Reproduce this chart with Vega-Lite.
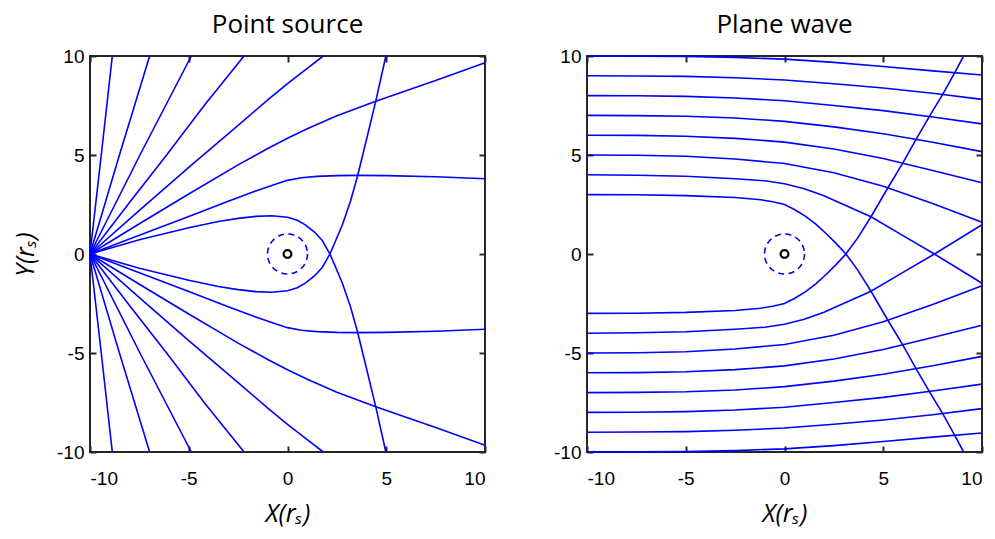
{
"$schema": "https://vega.github.io/schema/vega-lite/v6.json",
"padding": {"left": 12, "top": 11, "right": 0, "bottom": 0},
"background": "white",
"config": {
  "view": {"stroke": "#262626", "strokeWidth": 2},
  "axis": {"labelFont": "Liberation Sans", "labelFontSize": 19, "labelColor": "black", "labelExpr": "'' + datum.value", "grid": false, "domain": false, "tickColor": "#262626", "tickWidth": 2, "tickSize": -6, "titleFont": "Open Sans", "titleFontSize": 25, "titleFontStyle": "italic", "titleFontWeight": "normal", "titleColor": "black"}
},
"datasets": {
"rays": [
{"p":"A","r":"a1","i":0,"x":-10,"y":0},{"p":"A","r":"a1","i":1,"x":-9.43,"y":5},{"p":"A","r":"a1","i":2,"x":-8.87,"y":10},
{"p":"A","r":"a2","i":0,"x":-10,"y":0},{"p":"A","r":"a2","i":1,"x":-8.51,"y":5},{"p":"A","r":"a2","i":2,"x":-6.98,"y":10},
{"p":"A","r":"a3","i":0,"x":-10,"y":0},{"p":"A","r":"a3","i":1,"x":-7.47,"y":5},{"p":"A","r":"a3","i":2,"x":-4.87,"y":10},
{"p":"A","r":"a4","i":0,"x":-10,"y":0},{"p":"A","r":"a4","i":1,"x":-8,"y":2.6},{"p":"A","r":"a4","i":2,"x":-6.12,"y":5},{"p":"A","r":"a4","i":3,"x":-4.2,"y":7.52},{"p":"A","r":"a4","i":4,"x":-2.2,"y":10},
{"p":"A","r":"a5","i":0,"x":-10,"y":0},{"p":"A","r":"a5","i":1,"x":-7.5,"y":2.2},{"p":"A","r":"a5","i":2,"x":-5,"y":4.38},{"p":"A","r":"a5","i":3,"x":-2.5,"y":6.5},{"p":"A","r":"a5","i":4,"x":-1,"y":7.78},{"p":"A","r":"a5","i":5,"x":0,"y":8.6},{"p":"A","r":"a5","i":6,"x":1,"y":9.38},{"p":"A","r":"a5","i":7,"x":1.81,"y":10},
{"p":"A","r":"a6","i":0,"x":-10,"y":0},{"p":"A","r":"a6","i":1,"x":-7.5,"y":1.53},{"p":"A","r":"a6","i":2,"x":-5,"y":3.03},{"p":"A","r":"a6","i":3,"x":-2.5,"y":4.5},{"p":"A","r":"a6","i":4,"x":-1,"y":5.33},{"p":"A","r":"a6","i":5,"x":0,"y":5.85},{"p":"A","r":"a6","i":6,"x":1,"y":6.33},{"p":"A","r":"a6","i":7,"x":2.5,"y":6.98},{"p":"A","r":"a6","i":8,"x":4.47,"y":7.72},{"p":"A","r":"a6","i":9,"x":7.5,"y":8.76},{"p":"A","r":"a6","i":10,"x":10,"y":9.66},
{"p":"A","r":"a7","i":0,"x":-10,"y":0},{"p":"A","r":"a7","i":1,"x":-7.5,"y":0.95},{"p":"A","r":"a7","i":2,"x":-5,"y":1.9},{"p":"A","r":"a7","i":3,"x":-3,"y":2.66},{"p":"A","r":"a7","i":4,"x":-1.5,"y":3.22},{"p":"A","r":"a7","i":5,"x":-0.5,"y":3.56},{"p":"A","r":"a7","i":6,"x":0,"y":3.72},{"p":"A","r":"a7","i":7,"x":0.7,"y":3.85},{"p":"A","r":"a7","i":8,"x":1.5,"y":3.92},{"p":"A","r":"a7","i":9,"x":2.5,"y":3.96},{"p":"A","r":"a7","i":10,"x":3.5,"y":3.97},{"p":"A","r":"a7","i":11,"x":5,"y":3.96},{"p":"A","r":"a7","i":12,"x":7.5,"y":3.9},{"p":"A","r":"a7","i":13,"x":10,"y":3.8},
{"p":"A","r":"a8","i":0,"x":-10,"y":0},{"p":"A","r":"a8","i":1,"x":-7.5,"y":0.72},{"p":"A","r":"a8","i":2,"x":-5,"y":1.33},{"p":"A","r":"a8","i":3,"x":-3.5,"y":1.64},{"p":"A","r":"a8","i":4,"x":-2.5,"y":1.8},{"p":"A","r":"a8","i":5,"x":-1.6,"y":1.9},{"p":"A","r":"a8","i":6,"x":-0.8,"y":1.93},{"p":"A","r":"a8","i":7,"x":0,"y":1.86},{"p":"A","r":"a8","i":8,"x":0.5,"y":1.7},{"p":"A","r":"a8","i":9,"x":0.92,"y":1.46},{"p":"A","r":"a8","i":10,"x":1.35,"y":1.12},{"p":"A","r":"a8","i":11,"x":1.76,"y":0.68},{"p":"A","r":"a8","i":12,"x":2.15,"y":0},{"p":"A","r":"a8","i":13,"x":2.78,"y":-1.48},{"p":"A","r":"a8","i":14,"x":3.2,"y":-2.7},{"p":"A","r":"a8","i":15,"x":3.55,"y":-3.95},{"p":"A","r":"a8","i":16,"x":4.04,"y":-5.95},{"p":"A","r":"a8","i":17,"x":4.47,"y":-7.72},{"p":"A","r":"a8","i":18,"x":4.98,"y":-10},
{"p":"A","r":"b1","i":0,"x":-10,"y":0},{"p":"A","r":"b1","i":1,"x":-9.43,"y":-5},{"p":"A","r":"b1","i":2,"x":-8.87,"y":-10},
{"p":"A","r":"b2","i":0,"x":-10,"y":0},{"p":"A","r":"b2","i":1,"x":-8.51,"y":-5},{"p":"A","r":"b2","i":2,"x":-6.98,"y":-10},
{"p":"A","r":"b3","i":0,"x":-10,"y":0},{"p":"A","r":"b3","i":1,"x":-7.47,"y":-5},{"p":"A","r":"b3","i":2,"x":-4.87,"y":-10},
{"p":"A","r":"b4","i":0,"x":-10,"y":0},{"p":"A","r":"b4","i":1,"x":-8,"y":-2.6},{"p":"A","r":"b4","i":2,"x":-6.12,"y":-5},{"p":"A","r":"b4","i":3,"x":-4.2,"y":-7.52},{"p":"A","r":"b4","i":4,"x":-2.2,"y":-10},
{"p":"A","r":"b5","i":0,"x":-10,"y":0},{"p":"A","r":"b5","i":1,"x":-7.5,"y":-2.2},{"p":"A","r":"b5","i":2,"x":-5,"y":-4.38},{"p":"A","r":"b5","i":3,"x":-2.5,"y":-6.5},{"p":"A","r":"b5","i":4,"x":-1,"y":-7.78},{"p":"A","r":"b5","i":5,"x":0,"y":-8.6},{"p":"A","r":"b5","i":6,"x":1,"y":-9.38},{"p":"A","r":"b5","i":7,"x":1.81,"y":-10},
{"p":"A","r":"b6","i":0,"x":-10,"y":0},{"p":"A","r":"b6","i":1,"x":-7.5,"y":-1.53},{"p":"A","r":"b6","i":2,"x":-5,"y":-3.03},{"p":"A","r":"b6","i":3,"x":-2.5,"y":-4.5},{"p":"A","r":"b6","i":4,"x":-1,"y":-5.33},{"p":"A","r":"b6","i":5,"x":0,"y":-5.85},{"p":"A","r":"b6","i":6,"x":1,"y":-6.33},{"p":"A","r":"b6","i":7,"x":2.5,"y":-6.98},{"p":"A","r":"b6","i":8,"x":4.47,"y":-7.72},{"p":"A","r":"b6","i":9,"x":7.5,"y":-8.76},{"p":"A","r":"b6","i":10,"x":10,"y":-9.66},
{"p":"A","r":"b7","i":0,"x":-10,"y":0},{"p":"A","r":"b7","i":1,"x":-7.5,"y":-0.95},{"p":"A","r":"b7","i":2,"x":-5,"y":-1.9},{"p":"A","r":"b7","i":3,"x":-3,"y":-2.66},{"p":"A","r":"b7","i":4,"x":-1.5,"y":-3.22},{"p":"A","r":"b7","i":5,"x":-0.5,"y":-3.56},{"p":"A","r":"b7","i":6,"x":0,"y":-3.72},{"p":"A","r":"b7","i":7,"x":0.7,"y":-3.85},{"p":"A","r":"b7","i":8,"x":1.5,"y":-3.92},{"p":"A","r":"b7","i":9,"x":2.5,"y":-3.96},{"p":"A","r":"b7","i":10,"x":3.5,"y":-3.97},{"p":"A","r":"b7","i":11,"x":5,"y":-3.96},{"p":"A","r":"b7","i":12,"x":7.5,"y":-3.9},{"p":"A","r":"b7","i":13,"x":10,"y":-3.8},
{"p":"A","r":"b8","i":0,"x":-10,"y":0},{"p":"A","r":"b8","i":1,"x":-7.5,"y":-0.72},{"p":"A","r":"b8","i":2,"x":-5,"y":-1.33},{"p":"A","r":"b8","i":3,"x":-3.5,"y":-1.64},{"p":"A","r":"b8","i":4,"x":-2.5,"y":-1.8},{"p":"A","r":"b8","i":5,"x":-1.6,"y":-1.9},{"p":"A","r":"b8","i":6,"x":-0.8,"y":-1.93},{"p":"A","r":"b8","i":7,"x":0,"y":-1.86},{"p":"A","r":"b8","i":8,"x":0.5,"y":-1.7},{"p":"A","r":"b8","i":9,"x":0.92,"y":-1.46},{"p":"A","r":"b8","i":10,"x":1.35,"y":-1.12},{"p":"A","r":"b8","i":11,"x":1.76,"y":-0.68},{"p":"A","r":"b8","i":12,"x":2.15,"y":0},{"p":"A","r":"b8","i":13,"x":2.78,"y":1.48},{"p":"A","r":"b8","i":14,"x":3.2,"y":2.7},{"p":"A","r":"b8","i":15,"x":3.55,"y":3.95},{"p":"A","r":"b8","i":16,"x":4.04,"y":5.95},{"p":"A","r":"b8","i":17,"x":4.47,"y":7.72},{"p":"A","r":"b8","i":18,"x":4.98,"y":10},

{"p":"B","r":"c10","i":0,"x":-10,"y":10},{"p":"B","r":"c10","i":1,"x":-7.5,"y":9.995},{"p":"B","r":"c10","i":2,"x":-5,"y":9.98},{"p":"B","r":"c10","i":3,"x":-2.5,"y":9.93},{"p":"B","r":"c10","i":4,"x":0,"y":9.84},{"p":"B","r":"c10","i":5,"x":2.5,"y":9.68},{"p":"B","r":"c10","i":6,"x":5,"y":9.47},{"p":"B","r":"c10","i":7,"x":7.5,"y":9.25},{"p":"B","r":"c10","i":8,"x":10,"y":9.04},
{"p":"B","r":"c9","i":0,"x":-10,"y":9},{"p":"B","r":"c9","i":1,"x":-7.5,"y":8.99},{"p":"B","r":"c9","i":2,"x":-5,"y":8.97},{"p":"B","r":"c9","i":3,"x":-2.5,"y":8.9},{"p":"B","r":"c9","i":4,"x":0,"y":8.79},{"p":"B","r":"c9","i":5,"x":2.5,"y":8.6},{"p":"B","r":"c9","i":6,"x":5,"y":8.38},{"p":"B","r":"c9","i":7,"x":7.5,"y":8.12},{"p":"B","r":"c9","i":8,"x":10,"y":7.81},
{"p":"B","r":"c8","i":0,"x":-10,"y":8},{"p":"B","r":"c8","i":1,"x":-7.5,"y":7.99},{"p":"B","r":"c8","i":2,"x":-5,"y":7.96},{"p":"B","r":"c8","i":3,"x":-2.5,"y":7.88},{"p":"B","r":"c8","i":4,"x":0,"y":7.74},{"p":"B","r":"c8","i":5,"x":2.5,"y":7.5},{"p":"B","r":"c8","i":6,"x":5,"y":7.24},{"p":"B","r":"c8","i":7,"x":7.5,"y":6.92},{"p":"B","r":"c8","i":8,"x":10,"y":6.57},
{"p":"B","r":"c7","i":0,"x":-10,"y":7},{"p":"B","r":"c7","i":1,"x":-7.5,"y":6.99},{"p":"B","r":"c7","i":2,"x":-5,"y":6.96},{"p":"B","r":"c7","i":3,"x":-2.5,"y":6.87},{"p":"B","r":"c7","i":4,"x":0,"y":6.7},{"p":"B","r":"c7","i":5,"x":2.5,"y":6.42},{"p":"B","r":"c7","i":6,"x":5,"y":6.07},{"p":"B","r":"c7","i":7,"x":7.5,"y":5.64},{"p":"B","r":"c7","i":8,"x":10,"y":5.17},
{"p":"B","r":"c6","i":0,"x":-10,"y":6},{"p":"B","r":"c6","i":1,"x":-7.5,"y":5.99},{"p":"B","r":"c6","i":2,"x":-5,"y":5.95},{"p":"B","r":"c6","i":3,"x":-2.5,"y":5.84},{"p":"B","r":"c6","i":4,"x":0,"y":5.65},{"p":"B","r":"c6","i":5,"x":2.5,"y":5.3},{"p":"B","r":"c6","i":6,"x":5,"y":4.82},{"p":"B","r":"c6","i":7,"x":7.5,"y":4.22},{"p":"B","r":"c6","i":8,"x":10,"y":3.6},
{"p":"B","r":"c5","i":0,"x":-10,"y":5},{"p":"B","r":"c5","i":1,"x":-7.5,"y":4.99},{"p":"B","r":"c5","i":2,"x":-5,"y":4.94},{"p":"B","r":"c5","i":3,"x":-2.5,"y":4.8},{"p":"B","r":"c5","i":4,"x":0,"y":4.57},{"p":"B","r":"c5","i":5,"x":2.5,"y":4.1},{"p":"B","r":"c5","i":6,"x":5,"y":3.42},{"p":"B","r":"c5","i":7,"x":7.5,"y":2.55},{"p":"B","r":"c5","i":8,"x":10,"y":1.6},
{"p":"B","r":"c4","i":0,"x":-10,"y":4},{"p":"B","r":"c4","i":1,"x":-7.5,"y":3.98},{"p":"B","r":"c4","i":2,"x":-5,"y":3.93},{"p":"B","r":"c4","i":3,"x":-2.5,"y":3.8},{"p":"B","r":"c4","i":4,"x":-1,"y":3.7},{"p":"B","r":"c4","i":5,"x":0,"y":3.55},{"p":"B","r":"c4","i":6,"x":1,"y":3.3},{"p":"B","r":"c4","i":7,"x":2,"y":2.94},{"p":"B","r":"c4","i":8,"x":2.76,"y":2.6},{"p":"B","r":"c4","i":9,"x":4.38,"y":1.88},{"p":"B","r":"c4","i":10,"x":6,"y":0.93},{"p":"B","r":"c4","i":11,"x":7.59,"y":0},{"p":"B","r":"c4","i":12,"x":10,"y":-1.48},
{"p":"B","r":"c3","i":0,"x":-10,"y":3},{"p":"B","r":"c3","i":1,"x":-7.5,"y":2.99},{"p":"B","r":"c3","i":2,"x":-5,"y":2.95},{"p":"B","r":"c3","i":3,"x":-2.5,"y":2.85},{"p":"B","r":"c3","i":4,"x":-1.2,"y":2.74},{"p":"B","r":"c3","i":5,"x":-0.6,"y":2.64},{"p":"B","r":"c3","i":6,"x":0,"y":2.5},{"p":"B","r":"c3","i":7,"x":0.5,"y":2.25},{"p":"B","r":"c3","i":8,"x":1.07,"y":1.9},{"p":"B","r":"c3","i":9,"x":1.6,"y":1.5},{"p":"B","r":"c3","i":10,"x":2.09,"y":1.05},{"p":"B","r":"c3","i":11,"x":2.6,"y":0.55},{"p":"B","r":"c3","i":12,"x":3.11,"y":0},{"p":"B","r":"c3","i":13,"x":3.7,"y":-0.8},{"p":"B","r":"c3","i":14,"x":4.38,"y":-1.88},{"p":"B","r":"c3","i":15,"x":5.22,"y":-3.32},{"p":"B","r":"c3","i":16,"x":5.98,"y":-4.58},{"p":"B","r":"c3","i":17,"x":6.66,"y":-5.79},{"p":"B","r":"c3","i":18,"x":7.33,"y":-6.94},{"p":"B","r":"c3","i":19,"x":8.01,"y":-8.06},{"p":"B","r":"c3","i":20,"x":8.6,"y":-9.12},{"p":"B","r":"c3","i":21,"x":9.07,"y":-10},
{"p":"B","r":"d10","i":0,"x":-10,"y":-10},{"p":"B","r":"d10","i":1,"x":-7.5,"y":-9.995},{"p":"B","r":"d10","i":2,"x":-5,"y":-9.98},{"p":"B","r":"d10","i":3,"x":-2.5,"y":-9.93},{"p":"B","r":"d10","i":4,"x":0,"y":-9.84},{"p":"B","r":"d10","i":5,"x":2.5,"y":-9.68},{"p":"B","r":"d10","i":6,"x":5,"y":-9.47},{"p":"B","r":"d10","i":7,"x":7.5,"y":-9.25},{"p":"B","r":"d10","i":8,"x":10,"y":-9.04},
{"p":"B","r":"d9","i":0,"x":-10,"y":-9},{"p":"B","r":"d9","i":1,"x":-7.5,"y":-8.99},{"p":"B","r":"d9","i":2,"x":-5,"y":-8.97},{"p":"B","r":"d9","i":3,"x":-2.5,"y":-8.9},{"p":"B","r":"d9","i":4,"x":0,"y":-8.79},{"p":"B","r":"d9","i":5,"x":2.5,"y":-8.6},{"p":"B","r":"d9","i":6,"x":5,"y":-8.38},{"p":"B","r":"d9","i":7,"x":7.5,"y":-8.12},{"p":"B","r":"d9","i":8,"x":10,"y":-7.81},
{"p":"B","r":"d8","i":0,"x":-10,"y":-8},{"p":"B","r":"d8","i":1,"x":-7.5,"y":-7.99},{"p":"B","r":"d8","i":2,"x":-5,"y":-7.96},{"p":"B","r":"d8","i":3,"x":-2.5,"y":-7.88},{"p":"B","r":"d8","i":4,"x":0,"y":-7.74},{"p":"B","r":"d8","i":5,"x":2.5,"y":-7.5},{"p":"B","r":"d8","i":6,"x":5,"y":-7.24},{"p":"B","r":"d8","i":7,"x":7.5,"y":-6.92},{"p":"B","r":"d8","i":8,"x":10,"y":-6.57},
{"p":"B","r":"d7","i":0,"x":-10,"y":-7},{"p":"B","r":"d7","i":1,"x":-7.5,"y":-6.99},{"p":"B","r":"d7","i":2,"x":-5,"y":-6.96},{"p":"B","r":"d7","i":3,"x":-2.5,"y":-6.87},{"p":"B","r":"d7","i":4,"x":0,"y":-6.7},{"p":"B","r":"d7","i":5,"x":2.5,"y":-6.42},{"p":"B","r":"d7","i":6,"x":5,"y":-6.07},{"p":"B","r":"d7","i":7,"x":7.5,"y":-5.64},{"p":"B","r":"d7","i":8,"x":10,"y":-5.17},
{"p":"B","r":"d6","i":0,"x":-10,"y":-6},{"p":"B","r":"d6","i":1,"x":-7.5,"y":-5.99},{"p":"B","r":"d6","i":2,"x":-5,"y":-5.95},{"p":"B","r":"d6","i":3,"x":-2.5,"y":-5.84},{"p":"B","r":"d6","i":4,"x":0,"y":-5.65},{"p":"B","r":"d6","i":5,"x":2.5,"y":-5.3},{"p":"B","r":"d6","i":6,"x":5,"y":-4.82},{"p":"B","r":"d6","i":7,"x":7.5,"y":-4.22},{"p":"B","r":"d6","i":8,"x":10,"y":-3.6},
{"p":"B","r":"d5","i":0,"x":-10,"y":-5},{"p":"B","r":"d5","i":1,"x":-7.5,"y":-4.99},{"p":"B","r":"d5","i":2,"x":-5,"y":-4.94},{"p":"B","r":"d5","i":3,"x":-2.5,"y":-4.8},{"p":"B","r":"d5","i":4,"x":0,"y":-4.57},{"p":"B","r":"d5","i":5,"x":2.5,"y":-4.1},{"p":"B","r":"d5","i":6,"x":5,"y":-3.42},{"p":"B","r":"d5","i":7,"x":7.5,"y":-2.55},{"p":"B","r":"d5","i":8,"x":10,"y":-1.6},
{"p":"B","r":"d4","i":0,"x":-10,"y":-4},{"p":"B","r":"d4","i":1,"x":-7.5,"y":-3.98},{"p":"B","r":"d4","i":2,"x":-5,"y":-3.93},{"p":"B","r":"d4","i":3,"x":-2.5,"y":-3.8},{"p":"B","r":"d4","i":4,"x":-1,"y":-3.7},{"p":"B","r":"d4","i":5,"x":0,"y":-3.55},{"p":"B","r":"d4","i":6,"x":1,"y":-3.3},{"p":"B","r":"d4","i":7,"x":2,"y":-2.94},{"p":"B","r":"d4","i":8,"x":2.76,"y":-2.6},{"p":"B","r":"d4","i":9,"x":4.38,"y":-1.88},{"p":"B","r":"d4","i":10,"x":6,"y":-0.93},{"p":"B","r":"d4","i":11,"x":7.59,"y":0},{"p":"B","r":"d4","i":12,"x":10,"y":1.48},
{"p":"B","r":"d3","i":0,"x":-10,"y":-3},{"p":"B","r":"d3","i":1,"x":-7.5,"y":-2.99},{"p":"B","r":"d3","i":2,"x":-5,"y":-2.95},{"p":"B","r":"d3","i":3,"x":-2.5,"y":-2.85},{"p":"B","r":"d3","i":4,"x":-1.2,"y":-2.74},{"p":"B","r":"d3","i":5,"x":-0.6,"y":-2.64},{"p":"B","r":"d3","i":6,"x":0,"y":-2.5},{"p":"B","r":"d3","i":7,"x":0.5,"y":-2.25},{"p":"B","r":"d3","i":8,"x":1.07,"y":-1.9},{"p":"B","r":"d3","i":9,"x":1.6,"y":-1.5},{"p":"B","r":"d3","i":10,"x":2.09,"y":-1.05},{"p":"B","r":"d3","i":11,"x":2.6,"y":-0.55},{"p":"B","r":"d3","i":12,"x":3.11,"y":0},{"p":"B","r":"d3","i":13,"x":3.7,"y":0.8},{"p":"B","r":"d3","i":14,"x":4.38,"y":1.88},{"p":"B","r":"d3","i":15,"x":5.22,"y":3.32},{"p":"B","r":"d3","i":16,"x":5.98,"y":4.58},{"p":"B","r":"d3","i":17,"x":6.66,"y":5.79},{"p":"B","r":"d3","i":18,"x":7.33,"y":6.94},{"p":"B","r":"d3","i":19,"x":8.01,"y":8.06},{"p":"B","r":"d3","i":20,"x":8.6,"y":9.12},{"p":"B","r":"d3","i":21,"x":9.07,"y":10}
],
"center": [{"x":0,"y":0}]
},
"spacing": 62,
"hconcat": [
{
 "width": 395, "height": 396,
 "title": {"text": "Point source", "fontSize": 26, "font": "Open Sans", "fontWeight": "normal", "color": "black", "offset": 9},
 "layer": [
  {"data": {"name": "rays"}, "transform": [{"filter": "datum.p === 'A'"}],
   "mark": {"type": "line", "color": "#0000ff", "strokeWidth": 1.6},
   "encoding": {
     "x": {"field": "x", "type": "quantitative", "scale": {"domain": [-10, 10], "nice": false, "zero": false}, "axis": {"orient": "bottom", "values": [-10, -5, 0, 5, 10], "title": "X(rₛ)", "labelPadding": 23, "titlePadding": 13}},
     "y": {"field": "y", "type": "quantitative", "scale": {"domain": [-10, 10], "nice": false, "zero": false}, "axis": {"orient": "left", "values": [-10, -5, 0, 5, 10], "title": "Y(rₛ)", "labelPadding": 12, "titlePadding": 18}},
     "detail": {"field": "r"},
     "order": {"field": "i", "type": "quantitative"}}},
  {"data": {"name": "center"},
   "mark": {"type": "point", "shape": "circle", "size": 1600, "filled": false, "stroke": "#0000ff", "strokeWidth": 1.6, "strokeDash": [6, 4.5], "opacity": 1},
   "encoding": {
     "x": {"field": "x", "type": "quantitative", "scale": {"domain": [-10, 10], "nice": false, "zero": false}, "axis": {"orient": "top", "values": [-10, -5, 0, 5, 10], "labels": false, "title": null}},
     "y": {"field": "y", "type": "quantitative", "scale": {"domain": [-10, 10], "nice": false, "zero": false}, "axis": {"orient": "right", "values": [-10, -5, 0, 5, 10], "labels": false, "title": null}}}},
  {"data": {"name": "center"},
   "mark": {"type": "point", "shape": "circle", "size": 60, "filled": false, "stroke": "black", "strokeWidth": 2.2, "opacity": 1},
   "encoding": {
     "x": {"field": "x", "type": "quantitative", "scale": {"domain": [-10, 10], "nice": false, "zero": false}, "axis": null},
     "y": {"field": "y", "type": "quantitative", "scale": {"domain": [-10, 10], "nice": false, "zero": false}, "axis": null}}}
 ],
 "resolve": {"axis": {"x": "independent", "y": "independent"}}
},
{
 "width": 395, "height": 396,
 "title": {"text": "Plane wave", "fontSize": 26, "font": "Open Sans", "fontWeight": "normal", "color": "black", "offset": 9},
 "layer": [
  {"data": {"name": "rays"}, "transform": [{"filter": "datum.p === 'B'"}],
   "mark": {"type": "line", "color": "#0000ff", "strokeWidth": 1.6},
   "encoding": {
     "x": {"field": "x", "type": "quantitative", "scale": {"domain": [-10, 10], "nice": false, "zero": false}, "axis": {"orient": "bottom", "values": [-10, -5, 0, 5, 10], "title": "X(rₛ)", "labelPadding": 23, "titlePadding": 13}},
     "y": {"field": "y", "type": "quantitative", "scale": {"domain": [-10, 10], "nice": false, "zero": false}, "axis": {"orient": "left", "values": [-10, -5, 0, 5, 10], "title": null, "labelPadding": 12}},
     "detail": {"field": "r"},
     "order": {"field": "i", "type": "quantitative"}}},
  {"data": {"name": "center"},
   "mark": {"type": "point", "shape": "circle", "size": 1600, "filled": false, "stroke": "#0000ff", "strokeWidth": 1.6, "strokeDash": [6, 4.5], "opacity": 1},
   "encoding": {
     "x": {"field": "x", "type": "quantitative", "scale": {"domain": [-10, 10], "nice": false, "zero": false}, "axis": {"orient": "top", "values": [-10, -5, 0, 5, 10], "labels": false, "title": null}},
     "y": {"field": "y", "type": "quantitative", "scale": {"domain": [-10, 10], "nice": false, "zero": false}, "axis": {"orient": "right", "values": [-10, -5, 0, 5, 10], "labels": false, "title": null}}}},
  {"data": {"name": "center"},
   "mark": {"type": "point", "shape": "circle", "size": 60, "filled": false, "stroke": "black", "strokeWidth": 2.2, "opacity": 1},
   "encoding": {
     "x": {"field": "x", "type": "quantitative", "scale": {"domain": [-10, 10], "nice": false, "zero": false}, "axis": null},
     "y": {"field": "y", "type": "quantitative", "scale": {"domain": [-10, 10], "nice": false, "zero": false}, "axis": null}}}
 ],
 "resolve": {"axis": {"x": "independent", "y": "independent"}}
}
]
}
